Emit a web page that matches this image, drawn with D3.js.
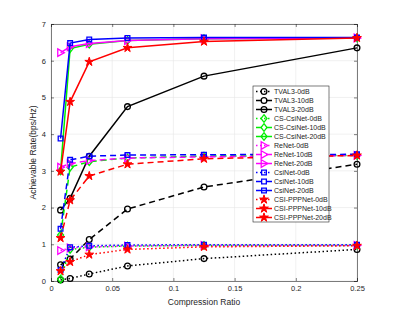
<!DOCTYPE html>
<html>
<head>
<meta charset="utf-8">
<script src="https://cdn.jsdelivr.net/npm/d3@7"></script>
<style>
  body { margin: 0; background: #fff; }
  text { font-family: "Liberation Sans", Arial, sans-serif; fill: #262626; }
</style>
</head>
<body>
<div class="chart"></div>
<script>
var svgWidth = 394;
var svgHeight = 315;

var margin = { top: 24, right: 37, bottom: 34, left: 51 };
var width = svgWidth - margin.left - margin.right;
var height = svgHeight - margin.top - margin.bottom;

// compression ratios
var ratios = [1/128, 1/64, 1/32, 1/16, 1/8, 1/4];
var xTicks = [0, 0.05, 0.1, 0.15, 0.2, 0.25];
var yTicks = [0, 1, 2, 3, 4, 5, 6, 7];

var seriesNames = [
  "TVAL3-0dB", "TVAL3-10dB", "TVAL3-20dB",
  "CS-CsiNet-0dB", "CS-CsiNet-10dB", "CS-CsiNet-20dB",
  "ReNet-0dB", "ReNet-10dB", "ReNet-20dB",
  "CsiNet-0dB", "CsiNet-10dB", "CsiNet-20dB",
  "CSI-PPPNet-0dB", "CSI-PPPNet-10dB", "CSI-PPPNet-20dB"
];

var tval3_0 = [0.03, 0.07, 0.19, 0.41, 0.61, 0.86];
var tval3_10 = [0.44, 0.6, 1.13, 1.96, 2.56, 3.18];
var tval3_20 = [1.93, 2.25, 3.4, 4.75, 5.58, 6.35];
var cscsinet_0 = [0.05, 0.86, 0.92, 0.95, 0.97, 0.97];
var cscsinet_10 = [1.25, 3.1, 3.25, 3.35, 3.4, 3.42];
var cscsinet_20 = [3.0, 6.33, 6.45, 6.55, 6.6, 6.62];
var renet_0 = [0.83, 0.9, 0.93, 0.95, 0.97, 0.97];
var renet_10 = [3.1, 3.2, 3.28, 3.35, 3.38, 3.42];
var renet_20 = [6.22, 6.38, 6.47, 6.55, 6.6, 6.62];
var csinet_0 = [0.3, 0.92, 0.96, 0.98, 0.99, 0.99];
var csinet_10 = [1.42, 3.3, 3.4, 3.43, 3.44, 3.45];
var csinet_20 = [3.88, 6.48, 6.58, 6.62, 6.63, 6.63];
var ppp_0 = [0.27, 0.52, 0.72, 0.86, 0.93, 0.96];
var ppp_10 = [1.17, 2.2, 2.86, 3.18, 3.33, 3.42];
var ppp_20 = [2.98, 4.88, 5.97, 6.35, 6.52, 6.62];

var seriesValues = [
  tval3_0, tval3_10, tval3_20,
  cscsinet_0, cscsinet_10, cscsinet_20,
  renet_0, renet_10, renet_20,
  csinet_0, csinet_10, csinet_20,
  ppp_0, ppp_10, ppp_20
];

var colors = ["#000000", "#00ee00", "#ff00ff", "#0000ff", "#ff0000"];
var dashes = ["1.5,2.5", "6,4", null];
var shapes = ["circle", "diamond", "triangle", "square", "star"];

var svg = d3.select(".chart")
  .append("svg")
  .attr("width", svgWidth)
  .attr("height", svgHeight);

var chartGroup = svg.append("g")
  .attr("transform", `translate(${margin.left}, ${margin.top})`);

var xScale = d3.scaleLinear().domain([0, 0.25]).range([0, width]);
var yScale = d3.scaleLinear().domain([0, 7]).range([height, 0]);

// grid
chartGroup.append("g")
  .selectAll("line.gx")
  .data(xTicks)
  .enter()
  .append("line")
  .attr("x1", d => xScale(d)).attr("x2", d => xScale(d))
  .attr("y1", 0).attr("y2", height)
  .attr("stroke", "#e6e6e6").attr("stroke-width", 0.6);
chartGroup.append("g")
  .selectAll("line.gy")
  .data(yTicks)
  .enter()
  .append("line")
  .attr("y1", d => yScale(d)).attr("y2", d => yScale(d))
  .attr("x1", 0).attr("x2", width)
  .attr("stroke", "#e6e6e6").attr("stroke-width", 0.6);

var bottomAxis = d3.axisBottom(xScale).tickValues(xTicks).tickSize(-3).tickPadding(5)
  .tickFormat(d => String(d));
var leftAxis = d3.axisLeft(yScale).tickValues(yTicks).tickSize(-3).tickPadding(5)
  .tickFormat(d3.format("d"));
var topAxis = d3.axisTop(xScale).tickValues(xTicks).tickSize(-3).tickFormat("");
var rightAxis = d3.axisRight(yScale).tickValues(yTicks).tickSize(-3).tickFormat("");

function styleAxis(g) {
  g.selectAll("path").attr("stroke", "#262626").attr("stroke-width", 0.6);
  g.selectAll("line").attr("stroke", "#262626").attr("stroke-width", 0.6);
  g.selectAll("text").style("font-size", "7.5px").attr("fill", "#262626");
}

chartGroup.append("g").attr("transform", `translate(0, ${height})`).call(bottomAxis).call(styleAxis);
chartGroup.append("g").call(leftAxis).call(styleAxis);
chartGroup.append("g").call(topAxis).call(styleAxis);
chartGroup.append("g").attr("transform", `translate(${width}, 0)`).call(rightAxis).call(styleAxis);

chartGroup.append("text")
  .attr("transform", "rotate(-90)")
  .attr("x", -height / 2)
  .attr("y", -15)
  .attr("text-anchor", "middle")
  .style("font-size", "8.5px")
  .text("Achievable Rate(bps/Hz)");

chartGroup.append("text")
  .attr("x", width / 2)
  .attr("y", height + 24)
  .attr("text-anchor", "middle")
  .style("font-size", "8.5px")
  .text("Compression Ratio");

function markerPath(shape) {
  if (shape === "circle") return d3.symbol(d3.symbolCircle, 26)();
  if (shape === "square") return d3.symbol(d3.symbolSquare, 22)();
  if (shape === "diamond") return "M0,-3.8L3,0L0,3.8L-3,0Z";
  if (shape === "triangle") return "M-2.8,-3.8L3.8,0L-2.8,3.8Z";
  return d3.symbol(d3.symbolStar, 24)();
}

var line = d3.line()
  .x((d, i) => xScale(ratios[i]))
  .y(d => yScale(d));

seriesValues.forEach(function(vals, k) {
  var c = colors[Math.floor(k / 3)];
  var shape = shapes[Math.floor(k / 3)];
  var dash = dashes[k % 3];
  var g = chartGroup.append("g");
  g.append("path")
    .attr("d", line(vals))
    .attr("fill", "none")
    .attr("stroke", c)
    .attr("stroke-width", 1.5)
    .attr("stroke-dasharray", dash);
  g.selectAll("path.m")
    .data(vals)
    .enter()
    .append("path")
    .attr("d", markerPath(shape))
    .attr("transform", (d, i) => `translate(${xScale(ratios[i])}, ${yScale(d)})`)
    .attr("fill", shape === "star" ? c : "none")
    .attr("stroke", c)
    .attr("stroke-width", shape === "star" ? 1 : 1.3);
});

// legend
var legend = svg.append("g").attr("transform", "translate(253, 86)");
legend.append("rect")
  .attr("width", 76).attr("height", 136)
  .attr("fill", "#fff")
  .attr("stroke", "#262626").attr("stroke-width", 0.6);

var legendItems = legend.selectAll("g.item")
  .data(seriesNames)
  .enter()
  .append("g")
  .attr("transform", (d, i) => `translate(0, ${5.5 + i * 9})`);

legendItems.append("line")
  .attr("x1", 3).attr("x2", 19)
  .attr("y1", 0).attr("y2", 0)
  .attr("stroke", (d, i) => colors[Math.floor(i / 3)])
  .attr("stroke-width", 1.5)
  .attr("stroke-dasharray", (d, i) => dashes[i % 3]);

legendItems.append("path")
  .attr("d", (d, i) => markerPath(shapes[Math.floor(i / 3)]))
  .attr("transform", "translate(11, 0)")
  .attr("fill", (d, i) => Math.floor(i / 3) === 4 ? colors[4] : "none")
  .attr("stroke", (d, i) => colors[Math.floor(i / 3)])
  .attr("stroke-width", (d, i) => Math.floor(i / 3) === 4 ? 1 : 1.3);

legendItems.append("text")
  .attr("x", 21)
  .attr("y", 2.5)
  .style("font-size", "7px")
  .text(d => d);
</script>
</body>
</html>
